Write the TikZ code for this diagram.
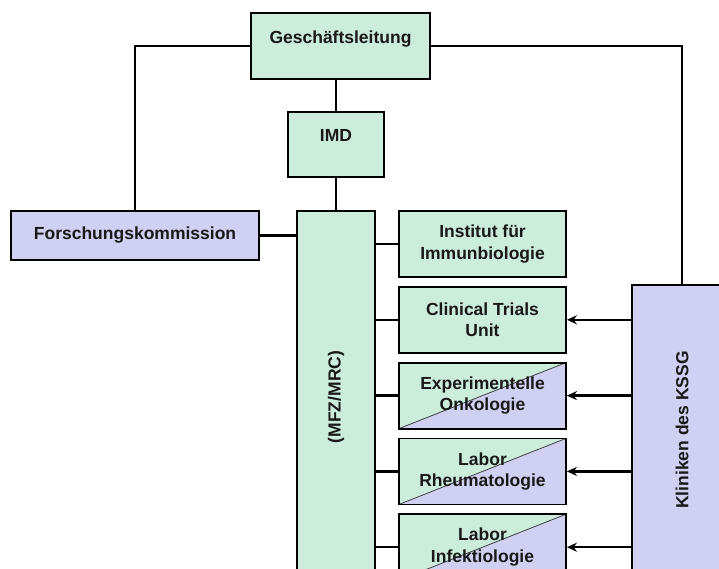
\documentclass[tikz,border=0pt]{standalone}
\usepackage{fontspec}
\setmainfont{Liberation Sans}
\usetikzlibrary{positioning,arrows.meta}
\definecolor{cG}{RGB}{204,236,220}
\definecolor{cP}{RGB}{208,208,242}
\tikzset{orgbox/.style={
  shape=rectangle,
  draw=black,
  line width=1.8pt,
  fill=cG,
  align=center,
  inner sep=0pt,
  text=black!90,
  font=\fontsize{17.5}{21.5}\selectfont\bfseries,
  }
}
\tikzset{orgbox2/.style={
  orgbox,
  fill=cP,
  }
}
\tikzset{orgsplit/.style={
  orgbox,
  path picture={
    \fill[cP] (path picture bounding box.south west) -- (path picture bounding box.north east)
      -- (path picture bounding box.south east) -- cycle;
    \draw[line width=0.8pt, black!75] (path picture bounding box.south west)
      -- (path picture bounding box.north east);
  },
  }
}
\tikzset{labsize/.style={minimum width=167pt, minimum height=66pt}}
\tikzset{raised/.style={text height=12.5pt, text depth=18pt}}
\tikzset{link/.style={draw=black, line width=2.4pt}}
\tikzset{feed/.style={link, -{Stealth[length=10pt,width=9pt]}}}

\begin{document}
\begin{tikzpicture}[x=1pt,y=-1pt]
      \useasboundingbox (0,0) rectangle (719,568);
      \clip (0,0) rectangle (719,568);
      % top of the tree
      \node [orgbox, raised, minimum width=179pt, minimum height=66pt] (gl) at (340.5,46) {Geschäftsleitung};
      \node [orgbox, raised, minimum width=96pt, minimum height=65pt] (imd) at (336,144.5) {IMD};
      \node [orgbox2, minimum width=248pt, minimum height=49pt] (fk) at (135,235.5) {Forschungskommission};
      \node [orgbox, minimum width=78pt, minimum height=372pt] (mfz) at (336,397) {\rotatebox{90}{(MFZ/MRC)}};
      \node [orgbox2, minimum width=100pt, minimum height=290pt] (kl) at (682,430) {\rotatebox{90}{Kliniken des KSSG}};

      % units
      \node [orgbox, labsize] (inst) at (482.5,244) {Institut für\\Immunbiologie};
      \node [orgbox, labsize, below=8pt of inst] (ctu) {Clinical Trials\\Unit};
      \node [orgsplit, labsize, below=8pt of ctu] (onk) {Experimentelle\\Onkologie};
      \node [orgsplit, labsize, below=8pt of onk] (rheu) {Labor\\Rheumatologie};
      \node [orgsplit, labsize, below=8pt of rheu] (inf) {Labor\\Infektiologie};

      \draw [link] (gl.west) -| (fk.north);
      \draw [link] (gl.east) -| (kl.north);
      \draw [link] (imd.north |- gl.south) -- (imd.north);
      \draw [link] (imd.south) -- (mfz.north);
      \draw [link] (fk.east) -- (fk.east -| mfz.west);
      \foreach \b in {inst,ctu,onk,rheu,inf}
        \draw [link] (\b.west -| mfz.east) -- (\b.west);
      \foreach \b in {ctu,onk,rheu,inf}
        \draw [feed] (\b.east -| kl.west) -- (\b.east);
\end{tikzpicture}
\end{document}
